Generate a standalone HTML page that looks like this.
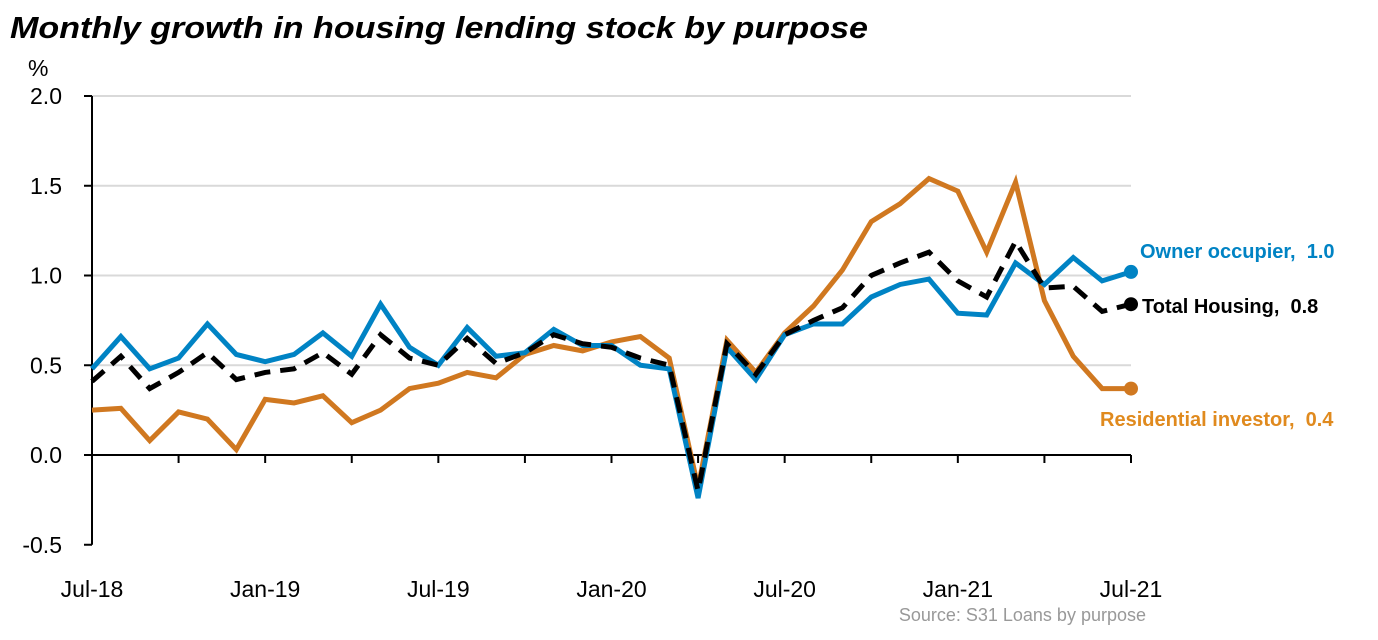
<!DOCTYPE html>
<html><head><meta charset="utf-8"><style>
body{margin:0;background:#fff;font-family:"Liberation Sans",sans-serif;}
text{white-space:pre;}
</style></head><body>
<svg width="1378" height="635" xmlns="http://www.w3.org/2000/svg" font-family="Liberation Sans, sans-serif">
<text x="10" y="38" font-size="31" font-style="italic" font-weight="bold" fill="#000" textLength="858" lengthAdjust="spacingAndGlyphs">Monthly growth in housing lending stock by purpose</text>
<text x="28" y="76" font-size="23">%</text>
<g id="grid"></g><g id="axes"></g><g id="lines"></g><g id="labels"></g>
<text x="1146" y="621" font-size="18" fill="#999" text-anchor="end">Source: S31 Loans by purpose</text>
</svg>
<script>
const yTicks=[2.0,1.5,1.0,0.5,0.0,-0.5];
const xTickLabels=["Jul-18","Jan-19","Jul-19","Jan-20","Jul-20","Jan-21","Jul-21"];
const owner=[0.48,0.66,0.48,0.54,0.73,0.56,0.52,0.56,0.68,0.55,0.84,0.60,0.50,0.71,0.55,0.57,0.70,0.61,0.61,0.50,0.48,-0.24,0.60,0.42,0.67,0.73,0.73,0.88,0.95,0.98,0.79,0.78,1.07,0.95,1.10,0.97,1.02];
const investor=[0.25,0.26,0.08,0.24,0.20,0.03,0.31,0.29,0.33,0.18,0.25,0.37,0.40,0.46,0.43,0.56,0.61,0.58,0.63,0.66,0.54,-0.18,0.64,0.46,0.68,0.83,1.03,1.30,1.40,1.54,1.47,1.13,1.52,0.86,0.55,0.37,0.37];
const total=[0.41,0.55,0.37,0.46,0.57,0.42,0.46,0.48,0.57,0.45,0.67,0.54,0.50,0.65,0.51,0.57,0.67,0.62,0.60,0.54,0.50,-0.20,0.62,0.45,0.67,0.75,0.82,1.00,1.07,1.13,0.97,0.88,1.19,0.93,0.94,0.80,0.84];
const NS="http://www.w3.org/2000/svg";
const x=i=>92+i*(1131-92)/36;
const y=v=>455-v*179.5;
function mk(t,a,p){const e=document.createElementNS(NS,t);for(const k in a)e.setAttribute(k,a[k]);document.getElementById(p).appendChild(e);return e;}
yTicks.forEach(v=>{
  if(v>0){const g=mk('line',{x1:92,x2:1131,y1:y(v),y2:y(v),stroke:'#d9d9d9','stroke-width':2},'grid');
  
  }
  const tk=mk('line',{x1:84,x2:92,y1:y(v),y2:y(v),stroke:'#000','stroke-width':2},'axes');
  
  
  const t=mk('text',{x:62,y:y(v)+8,'font-size':23,'text-anchor':'end'},'labels');
  t.textContent=v.toFixed(1);
  
  
});
let a=mk('line',{x1:92,x2:92,y1:y(2),y2:y(-0.5),stroke:'#000','stroke-width':2},'axes');


a=mk('line',{x1:92,x2:1131,y1:y(0),y2:y(0),stroke:'#000','stroke-width':2},'axes');


for(let i=0;i<=36;i+=3){const tk=mk('line',{x1:x(i),x2:x(i),y1:y(0),y2:y(0)+8,stroke:'#000','stroke-width':2},'axes');

}
xTickLabels.forEach((l,j)=>{const t=mk('text',{x:x(j*6),y:597,'font-size':23,'text-anchor':'middle'},'labels');t.textContent=l;

});
function series(d,col,name,dash){
  const p=mk('polyline',{points:d.map((v,i)=>x(i)+','+y(v)).join(' '),fill:'none',stroke:col,'stroke-width':5,'stroke-linejoin':'miter'},'lines');
  if(dash){p.setAttribute('stroke-dasharray','16 10');}
  
  
  const c=mk('circle',{cx:x(d.length-1),cy:y(d[d.length-1]),r:7,fill:col},'lines');
  
  
}
series(investor,'#D07820','residential-investor');
series(owner,'#0083C4','owner-occupier');
series(total,'#000','total-housing',true);
function lab(tx,px,py,col,name){const t=mk('text',{x:px,y:py,'font-size':20,'font-weight':'bold',fill:col},'labels');t.textContent=tx;

}
lab('Owner occupier,  '+owner[36].toFixed(1),1140,258,'#0083C4','owner-occupier-label');
lab('Total Housing,  '+total[36].toFixed(1),1142,313,'#000','total-housing-label');
lab('Residential investor,  '+investor[36].toFixed(1),1100,426,'#E08A1E','residential-investor-label');
</script>
</body></html>
